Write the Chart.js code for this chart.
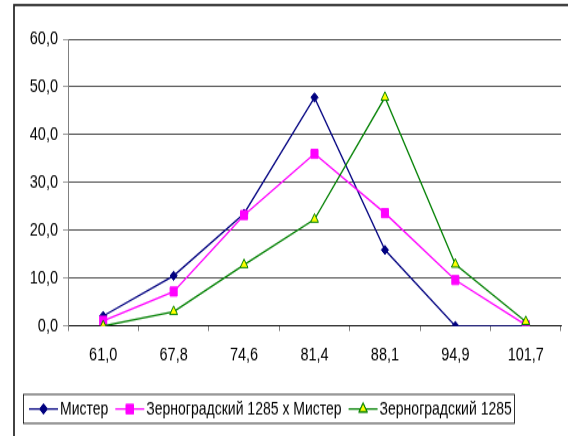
<!DOCTYPE html>
<html>
<head>
<meta charset="utf-8">
<script src="https://cdn.jsdelivr.net/npm/chart.js@4/dist/chart.umd.min.js"></script>
<style>
  html, body { margin: 0; padding: 0; background: #fff; }
  #page { width: 568px; height: 436px; overflow: hidden; position: relative; }
  /* the original Excel picture is stretched vertically, so draw short and stretch */
  #wrap { position: absolute; left: 0; top: 0; width: 568px; height: 346px; transform: scaleY(1.26); transform-origin: 0 0; }
  #chart { display: block; }
</style>
</head>
<body>
<div id="page"><div id="wrap"><canvas id="chart" width="568" height="346"></canvas></div></div>
<script>
const categories = ['61,0', '67,8', '74,6', '81,4', '88,1', '94,9', '101,7'];
const mister = [2.1, 10.5, 23.5, 47.8, 15.9, 0.0, 0.0];
const hybrid = [1.1, 7.2, 23.2, 36.0, 23.6, 9.6, 0.2];
const zernograd = [0.0, 3.0, 12.8, 22.3, 47.8, 12.9, 0.9];
const seriesNames = ['Мистер', 'Зерноградский 1285 х Мистер', 'Зерноградский 1285'];
const yTicks = [0, 10, 20, 30, 40, 50, 60];

const FONT = 'Arial, "Liberation Sans", sans-serif';
const SIZE = 14.5;
const LEGEND_SIZE = 14;

// outer frame + legend box, drawn by hand to get line+marker samples
const excelLegend = {
  id: 'excelLegend',
  afterDraw(chart){
    const ctx = chart.ctx;
    ctx.save();
    ctx.strokeStyle = '#222';
    ctx.lineWidth = 1.7;
    ctx.strokeRect(14, 4, 640, 520);

    ctx.lineWidth = 0.8;
    ctx.strokeStyle = '#000';
    ctx.strokeRect(23.5, 313, 491, 23);

    ctx.font = LEGEND_SIZE + 'px ' + FONT;
    ctx.textBaseline = 'middle';
    const cy = 324.6;
    let x = 29;
    chart.data.datasets.forEach(ds => {
      ctx.strokeStyle = ds.borderColor;
      ctx.lineWidth = 1.3;
      ctx.beginPath();
      ctx.moveTo(x, cy);
      ctx.lineTo(x + 29, cy);
      ctx.stroke();
      Chart.helpers.drawPoint(ctx, {
        pointStyle: ds.pointStyle,
        radius: ds.pointRadius,
        borderWidth: ds.pointBorderWidth
      }, x + 14.5, cy);
      ctx.fillStyle = ds.pointBackgroundColor;
      ctx.strokeStyle = ds.pointBorderColor;
      ctx.lineWidth = ds.pointBorderWidth;
      ctx.fill();
      ctx.stroke();
      ctx.fillStyle = '#000';
      ctx.fillText(ds.label, x + 31, cy + 0.5);
      x += 31 + ctx.measureText(ds.label).width + 7;
    });
    ctx.restore();
  }
};

new Chart(document.getElementById('chart'), {
  type: 'line',
  data: {
    labels: categories,
    datasets: [
      {
        label: seriesNames[0], data: mister, order: 3,
        borderColor: '#000080', borderWidth: 1.3,
        pointStyle: 'rectRot', pointRadius: 3.6, pointBorderWidth: 1,
        pointBackgroundColor: '#000080', pointBorderColor: '#000080'
      },
      {
        label: seriesNames[1], data: hybrid, order: 2,
        borderColor: '#ff00ff', borderWidth: 1.3,
        pointStyle: 'rect', pointRadius: 5, pointBorderWidth: 1,
        pointBackgroundColor: '#ff00ff', pointBorderColor: '#ff00ff'
      },
      {
        label: seriesNames[2], data: zernograd, order: 1,
        borderColor: '#008000', borderWidth: 1.3,
        pointStyle: 'triangle', pointRadius: 4.5, pointBorderWidth: 1,
        pointBackgroundColor: '#ffff00', pointBorderColor: '#008000'
      }
    ]
  },
  options: {
    responsive: false,
    animation: false,
    events: [],
    layout: { padding: { top: 31, right: 7, bottom: 0, left: 0 } },
    plugins: { legend: { display: false }, tooltip: { enabled: false } },
    scales: {
      x: {
        offset: true,
        afterFit(scale){ scale.height = 87.3; },
        grid: { offset: true, drawOnChartArea: false, tickLength: 4, color: '#808080', lineWidth: 1 },
        border: { color: '#000', width: 0.8 },
        ticks: { color: '#000', padding: 11, maxRotation: 0, font: { family: FONT, size: SIZE } }
      },
      y: {
        min: 0, max: 60,
        afterFit(scale){ scale.width = 68; },
        afterBuildTicks(scale){ scale.ticks = yTicks.map(v => ({ value: v })); },
        grid: { color: '#222', tickColor: '#808080', tickLength: 5, lineWidth: 0.8 },
        border: { color: '#808080', width: 1 },
        ticks: {
          color: '#000', padding: 5,
          font: { family: FONT, size: SIZE },
          callback: v => v.toFixed(1).replace('.', ',')
        }
      }
    }
  },
  plugins: [excelLegend]
});
</script>
</body>
</html>
